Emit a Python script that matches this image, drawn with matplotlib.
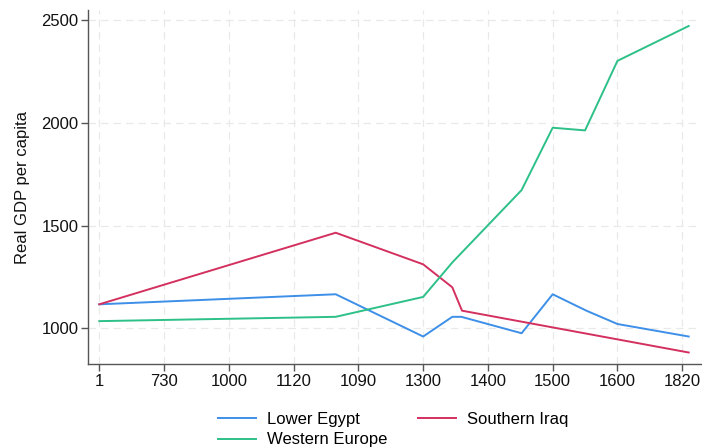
import matplotlib
matplotlib.use("Agg")
import matplotlib.pyplot as plt
from matplotlib.lines import Line2D

plt.rcParams['font.family'] = ['Liberation Sans', 'DejaVu Sans']

tick_labels = ["1", "730", "1000", "1120", "1090", "1300", "1400", "1500", "1600", "1820"]

egypt_x = [0, 3.65, 5.0, 5.45, 5.59, 6.52, 7.0, 7.52, 8.0, 9.1]
egypt_y = [1116, 1165, 959, 1055, 1055, 975, 1165, 1085, 1020, 959]

iraq_x = [0, 3.65, 5.0, 5.45, 5.6, 9.1]
iraq_y = [1116, 1465, 1311, 1199, 1085, 881]

europe_x = [0, 3.65, 5.0, 5.45, 6.52, 7.0, 7.5, 8.0, 9.1]
europe_y = [1034, 1055, 1152, 1320, 1673, 1977, 1964, 2303, 2473]

blue = "#3d8fe8"
red = "#d3305f"
green = "#2dc088"
FS = 12

fig = plt.figure(figsize=(7.02, 4.47), dpi=100)
ax = fig.add_axes([88.3 / 702, 1 - 364 / 447, (701 - 88.3) / 702, (364 - 10) / 447])

ax.plot(egypt_x, egypt_y, color=blue, lw=1.4, label="Lower Egypt", zorder=3)
ax.plot(iraq_x, iraq_y, color=red, lw=1.4, label="Southern Iraq", zorder=3)
ax.plot(europe_x, europe_y, color=green, lw=1.4, label="Western Europe", zorder=3)

ax.set_xlim(-0.17, 9.29)
ax.set_ylim(825, 2551)
ax.set_xticks(range(len(tick_labels)))
ax.set_xticklabels(tick_labels)
ax.set_yticks([1000, 1500, 2000, 2500])

ax.grid(True, color="#e9e9e9", linestyle=(0, (6, 4)), linewidth=0.9, zorder=0)
for s in ["top", "right"]:
    ax.spines[s].set_visible(False)
for s in ["left", "bottom"]:
    ax.spines[s].set_color("#555555")
    ax.spines[s].set_linewidth(1.0)
ax.tick_params(axis="both", direction="out", length=5, width=1.0, color="#555555",
               labelsize=FS, labelcolor="#111111", pad=2)
ax.set_ylabel("Real GDP per capita", fontsize=FS, color="#111111", labelpad=8)

handles = [Line2D([], [], color=blue, lw=1.4),
           Line2D([], [], color=red, lw=1.4),
           Line2D([], [], color=green, lw=1.4)]
labels = ["Lower Egypt", "Southern Iraq", "Western Europe"]
order = [0, 2, 1]
fig.legend([handles[i] for i in order], [labels[i] for i in order], ncol=2,
           loc="upper left", bbox_to_anchor=(217.7 / 702, 1 - 412 / 447),
           frameon=False, fontsize=FS, handlelength=2.3, handletextpad=0.66,
           columnspacing=1.84, labelspacing=0.32, borderpad=0, borderaxespad=0)

fig.savefig("out.png", dpi=100)
